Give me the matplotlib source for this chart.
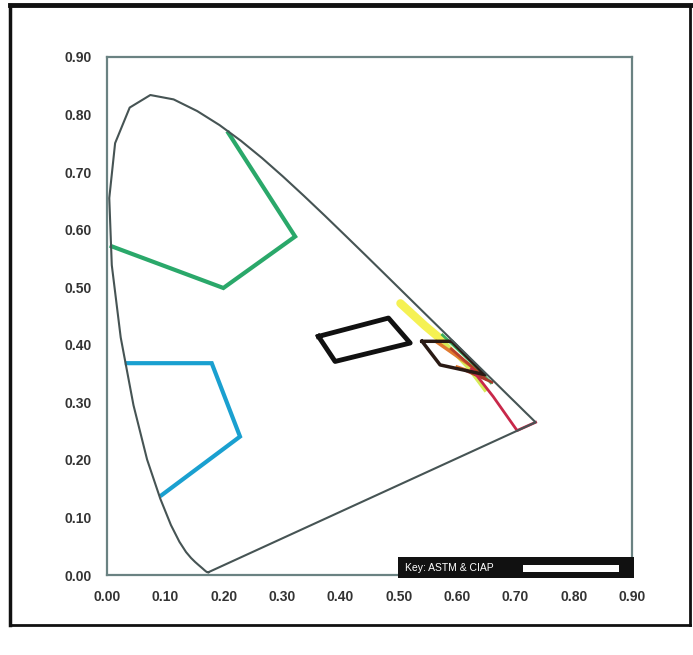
import matplotlib
matplotlib.use('Agg')
import matplotlib.pyplot as plt
from matplotlib.lines import Line2D
from matplotlib.patches import Rectangle

# CIE 1931 spectral locus (x, y)
locus_x = [0.1741, 0.1740, 0.1738, 0.1736, 0.1733, 0.1730, 0.1726, 0.1721, 0.1714,
           0.1703, 0.1689, 0.1669, 0.1644, 0.1611, 0.1566, 0.1510, 0.1440, 0.1355,
           0.1241, 0.1096, 0.0913, 0.0687, 0.0454, 0.0235, 0.0082, 0.0039, 0.0139,
           0.0389, 0.0743, 0.1142, 0.1547, 0.1929, 0.2296, 0.2658, 0.3016, 0.3373,
           0.3731, 0.4087, 0.4441, 0.4788, 0.5125, 0.5448, 0.5752, 0.6029, 0.6270,
           0.6482, 0.6658, 0.6801, 0.6915, 0.7006, 0.7079, 0.7140, 0.7190, 0.7230,
           0.7260, 0.7300, 0.7334, 0.7347]
locus_y = [0.0050, 0.0050, 0.0049, 0.0049, 0.0048, 0.0048, 0.0048, 0.0048, 0.0051,
           0.0058, 0.0069, 0.0086, 0.0109, 0.0138, 0.0177, 0.0227, 0.0297, 0.0399,
           0.0578, 0.0868, 0.1327, 0.2007, 0.2950, 0.4127, 0.5384, 0.6548, 0.7502,
           0.8120, 0.8338, 0.8262, 0.8059, 0.7816, 0.7543, 0.7243, 0.6923, 0.6589,
           0.6245, 0.5896, 0.5547, 0.5202, 0.4866, 0.4544, 0.4242, 0.3965, 0.3725,
           0.3514, 0.3340, 0.3197, 0.3083, 0.2993, 0.2920, 0.2859, 0.2809, 0.2770,
           0.2740, 0.2700, 0.2666, 0.2653]

green_x = [0.208, 0.3225, 0.1995, 0.008]
green_y = [0.768, 0.588, 0.4986, 0.571]

blue_x = [0.034, 0.1795, 0.228, 0.094]
blue_y = [0.368, 0.368, 0.2405, 0.139]

white_x = [0.3625, 0.4825, 0.5197, 0.391, 0.3625]
white_y = [0.4145, 0.4464, 0.403, 0.371, 0.4145]

yellow_x = [0.503, 0.545, 0.578]
yellow_y = [0.472, 0.433, 0.405]
lime_x = [0.578, 0.620, 0.648]
lime_y = [0.405, 0.360, 0.322]
green2_x = [0.575, 0.620, 0.658]
green2_y = [0.417, 0.374, 0.334]
orange_x = [0.565, 0.640]
orange_y = [0.405, 0.352]
orange_base_x = [0.600, 0.648]
orange_base_y = [0.362, 0.345]
red_x = [0.590, 0.650]
red_y = [0.393, 0.340]
red_base_x = [0.615, 0.660]
red_base_y = [0.355, 0.335]
crimson_x = [0.625, 0.662, 0.703, 0.7347]
crimson_y = [0.358, 0.310, 0.251, 0.2653]

amber_x = [0.540, 0.591, 0.648, 0.571, 0.540]
amber_y = [0.406, 0.406, 0.348, 0.365, 0.406]

ticks = [0.0, 0.1, 0.2, 0.3, 0.4, 0.5, 0.6, 0.7, 0.8, 0.9]

plt.rcParams['font.family'] = ['Liberation Sans', 'DejaVu Sans']
fig = plt.figure(figsize=(6.93, 6.55), dpi=100)
ax = fig.add_axes([0.1544, 0.1221, 0.7576, 0.791])

# locus and purple line
ax.plot(locus_x + [locus_x[0]], locus_y + [locus_y[0]], color='#465454', lw=1.5, zorder=5)

ax.plot(green_x, green_y, color='#2aa86a', lw=3, solid_joinstyle='miter')
ax.plot(blue_x, blue_y, color='#1aa0d0', lw=3, solid_joinstyle='miter')
ax.plot(white_x, white_y, color='#111111', lw=3.5, solid_joinstyle='round')

ax.plot(yellow_x, yellow_y, color='#f4f040', lw=6, alpha=0.9, solid_capstyle='round')
ax.plot(lime_x, lime_y, color='#d6ec5a', lw=3)
ax.plot(orange_x, orange_y, color='#e07a30', lw=2.5)
ax.plot(orange_base_x, orange_base_y, color='#e07a30', lw=2)
ax.plot(green2_x, green2_y, color='#3cb060', lw=2)
ax.plot(red_x, red_y, color='#b8402a', lw=2)
ax.plot(red_base_x, red_base_y, color='#a83a2a', lw=2)
ax.plot(crimson_x, crimson_y, color='#c8284a', lw=2)
ax.plot(amber_x, amber_y, color='#2a1a14', lw=2.5)

ax.set_xlim(0, 0.9)
ax.set_ylim(0, 0.9)
ax.set_xticks(ticks)
ax.set_yticks(ticks)
ax.set_xticklabels(['{:.2f}'.format(t) for t in ticks])
ax.set_yticklabels(['{:.2f}'.format(t) for t in ticks])
ax.tick_params(length=0, labelsize=10, colors='#333333', pad=11)
for lbl in ax.get_xticklabels() + ax.get_yticklabels():
    lbl.set_fontweight('bold')
for s in ax.spines.values():
    s.set_color('#6a8282')
    s.set_linewidth(1.6)

# key box
ax.add_patch(Rectangle((0.499, -0.006), 0.404, 0.037, transform=ax.transData,
                       facecolor='#111111', edgecolor='none', clip_on=False, zorder=6))
ax.text(0.510, 0.0125, 'Key: ASTM & CIAP', color='white', fontsize=7.5,
        va='center', ha='left', zorder=7, clip_on=False)
ax.add_patch(Rectangle((0.713, 0.006), 0.165, 0.012, transform=ax.transData,
                       facecolor='white', edgecolor='none', clip_on=False, zorder=7))

# outer frame of the scan
for (x0, y0, x1, y1, w) in [(0.014, 0.046, 0.014, 0.992, 2.5),
                            (0.014, 0.992, 1.0, 0.992, 3.5),
                            (0.995, 0.046, 0.995, 0.992, 2),
                            (0.014, 0.046, 0.995, 0.046, 2)]:
    fig.add_artist(Line2D([x0, x1], [y0, y1], color='#111111', lw=w,
                          transform=fig.transFigure))

fig.savefig('out.png', dpi=100)
